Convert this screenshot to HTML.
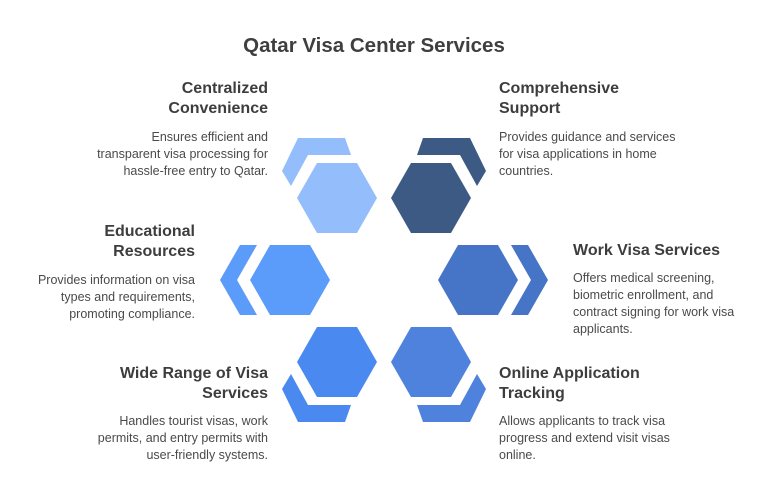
<!DOCTYPE html>
<html><head><meta charset="utf-8"><style>
body{margin:0;width:768px;height:479px;background:#fff;position:relative;overflow:hidden;font-family:"Liberation Sans",sans-serif;color:#444}
.t{position:absolute;font-size:20.5px;font-weight:bold;left:-10px;width:768px;text-align:center;top:34px;color:#3f3f3f}
.h{position:absolute;font-size:16px;font-weight:bold;line-height:20px;color:#3d3d3d}
.b{position:absolute;font-size:12.5px;line-height:17px;color:#4a4a4a}
.r{text-align:right}
</style></head><body>
<div class="t">Qatar Visa Center Services</div>
<svg width="768" height="479" style="position:absolute;left:0;top:0">
<g fill="#94bdfc"><polygon points="297,198 317,163 357,163 377,198 357,233 317,233"/><polygon points="298,138 345,138 351,155 308,155 291,186 282,171"/></g>
<g fill="#3d5a85"><polygon points="391,198 411,163 451,163 471,198 451,233 411,233"/><polygon points="470,138 423,138 417,155 460,155 477,186 486,171"/></g>
<g fill="#5b9bfa"><polygon points="250,280 270,245 310,245 330,280 310,315 270,315"/><polygon points="240,245 257,245 237,280 257,315 240,315 220,280"/></g>
<g fill="#4674c6"><polygon points="438,280 458,245 498,245 518,280 498,315 458,315"/><polygon points="528,245 511,245 531,280 511,315 528,315 548,280"/></g>
<g fill="#4a8af0"><polygon points="297,362 317,327 357,327 377,362 357,397 317,397"/><polygon points="298,422 345,422 351,405 308,405 291,374 282,389"/></g>
<g fill="#4f82dc"><polygon points="391,362 411,327 451,327 471,362 451,397 411,397"/><polygon points="470,422 423,422 417,405 460,405 477,374 486,389"/></g>
</svg>
<div class="h r" style="right:500px;top:79px">Centralized<br>Convenience</div>
<div class="b r" style="right:500px;top:129px">Ensures efficient and<br>transparent visa processing for<br>hassle-free entry to Qatar.</div>
<div class="h" style="left:499px;top:79px">Comprehensive<br>Support</div>
<div class="b" style="left:499px;top:129px">Provides guidance and services<br>for visa applications in home<br>countries.</div>
<div class="h r" style="right:573px;top:222px">Educational<br>Resources</div>
<div class="b r" style="right:573px;top:272px">Provides information on visa<br>types and requirements,<br>promoting compliance.</div>
<div class="h" style="left:573px;top:241px">Work Visa Services</div>
<div class="b" style="left:573px;top:270px">Offers medical screening,<br>biometric enrollment, and<br>contract signing for work visa<br>applicants.</div>
<div class="h r" style="right:500px;top:364px">Wide Range of Visa<br>Services</div>
<div class="b r" style="right:500px;top:413px">Handles tourist visas, work<br>permits, and entry permits with<br>user-friendly systems.</div>
<div class="h" style="left:499px;top:364px">Online Application<br>Tracking</div>
<div class="b" style="left:499px;top:413px">Allows applicants to track visa<br>progress and extend visit visas<br>online.</div>
</body></html>
